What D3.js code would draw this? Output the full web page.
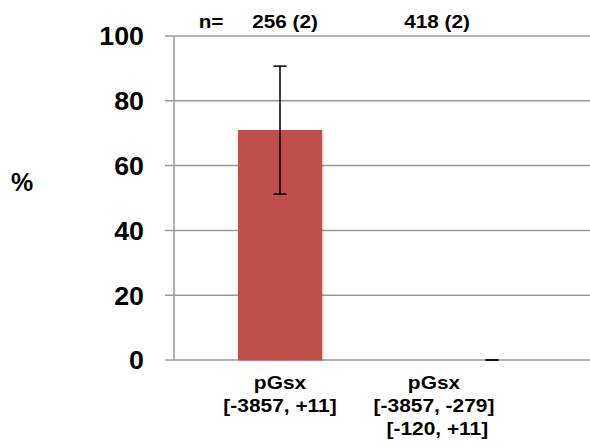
<!DOCTYPE html>
<html>
<head>
<meta charset="utf-8">
<script src="https://cdn.jsdelivr.net/npm/d3@7"></script>
<style>
  body { margin: 0; background: #fff; }
  text { font-family: "Liberation Sans", Arial, sans-serif; font-weight: bold; fill: #000; }
</style>
</head>
<body>
<div id="chart"></div>
<script>
// data
const categories = ["pGsx [-3857, +11]", "pGsx [-3857, -279] [-120, +11]"];
const catLines = [["pGsx", "[-3857, +11]"], ["pGsx", "[-3857, -279]", "[-120, +11]"]];
const values = [71, 0];
const errLow = [51.2, 0];
const errHigh = [90.7, 0];
const nLabels = ["256 (2)", "418 (2)"];
const yTicks = [0, 20, 40, 60, 80, 100];

const width = 590, height = 446;
const plotLeft = 174, plotTop = 36, plotBottom = 360;

const svg = d3.select("#chart").append("svg")
    .attr("width", width)
    .attr("height", height);

const x = d3.scaleBand()
    .domain(categories)
    .range([plotLeft, plotLeft + 424])
    .padding(0);

const y = d3.scaleLinear()
    .domain([0, 100])
    .range([plotBottom, plotTop]);

// text a bit wider than the font draws it
function wideText(px, py, sx) {
    return svg.append("g")
        .attr("transform", `translate(${px},${py}) scale(${sx},1)`)
        .append("text");
}

// gridlines
svg.selectAll(".grid")
    .data(yTicks)
    .enter().append("line")
    .attr("x1", plotLeft - 9)
    .attr("x2", width)
    .attr("y1", d => y(d))
    .attr("y2", d => y(d))
    .style("stroke", "#999")
    .style("stroke-width", 1.5);

// y axis line
svg.append("line")
    .attr("x1", plotLeft).attr("x2", plotLeft)
    .attr("y1", y(100)).attr("y2", y(0))
    .style("stroke", "#999")
    .style("stroke-width", 1.5);

// tick labels
yTicks.forEach(t => {
    wideText(144, y(t), 1.03)
        .attr("dy", "0.36em")
        .attr("text-anchor", "end")
        .style("font-size", "26px")
        .text(t);
});

wideText(11, 191, 1.0)
    .style("font-size", "25px")
    .text("%");

// bars
const barW = 84;
svg.append("defs").append("filter")
    .attr("id", "shadow")
    .append("feDropShadow")
    .attr("dx", 1).attr("dy", 1).attr("stdDeviation", 1.2)
    .attr("flood-color", "#000").attr("flood-opacity", 0.25);

svg.selectAll(".bar")
    .data(values)
    .enter().append("rect")
    .attr("x", (d, i) => x(categories[i]) + x.bandwidth() / 2 - barW / 2)
    .attr("y", d => y(d))
    .attr("width", barW)
    .attr("height", d => y(0) - y(d))
    .attr("filter", "url(#shadow)")
    .style("fill", "#C0504D");

// error bars
const cap = 6.5;
values.forEach((v, i) => {
    const cx = x(categories[i]) + x.bandwidth() / 2;
    const g = svg.append("g").style("stroke", "#000").style("stroke-width", 1.5);
    g.append("line").attr("x1", cx).attr("x2", cx).attr("y1", y(errLow[i])).attr("y2", y(errHigh[i]));
    g.append("line").attr("x1", cx - cap).attr("x2", cx + cap).attr("y1", y(errLow[i])).attr("y2", y(errLow[i]));
    g.append("line").attr("x1", cx - cap).attr("x2", cx + cap).attr("y1", y(errHigh[i])).attr("y2", y(errHigh[i]));
});

// category labels
const labelShift = [0, -58];
catLines.forEach((lines, i) => {
    const cx = x(categories[i]) + x.bandwidth() / 2 + labelShift[i];
    wideText(cx, 389, 1.1)
        .attr("text-anchor", "middle")
        .style("font-size", "19px")
        .selectAll("tspan")
        .data(lines)
        .enter().append("tspan")
        .attr("x", (d, j) => j === 2 ? 3 : 0)
        .attr("dy", (d, j) => j === 0 ? 0 : 23)
        .text(d => d);
});

// n labels
wideText(211, 28, 1.12)
    .attr("text-anchor", "middle")
    .style("font-size", "18.5px")
    .text("n=");

const nShift = [5, -55];
nLabels.forEach((d, i) => {
    wideText(x(categories[i]) + x.bandwidth() / 2 + nShift[i], 28, 1.12)
        .attr("text-anchor", "middle")
        .style("font-size", "18.5px")
        .text(d);
});
</script>
</body>
</html>
